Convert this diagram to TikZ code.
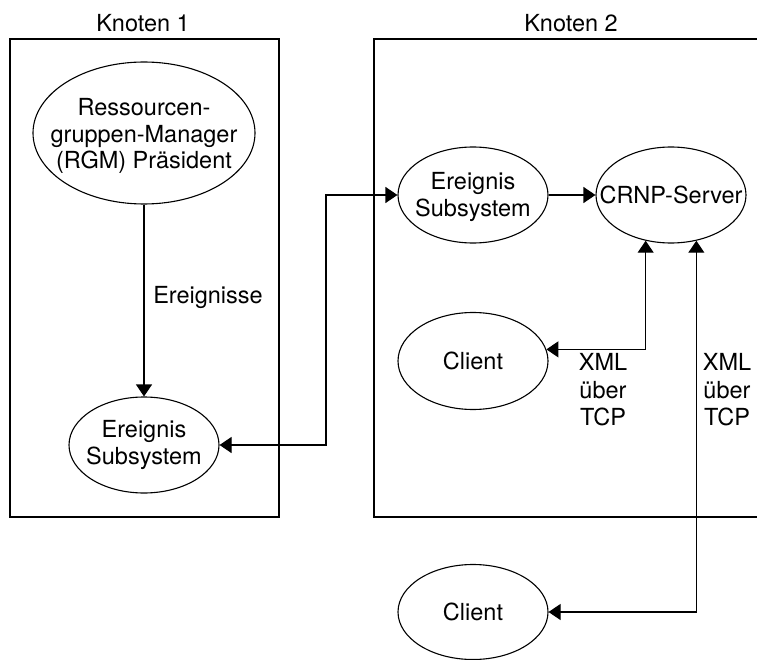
\documentclass[tikz,border=0pt]{standalone}
\usepackage{fontspec}
\setmainfont{TeX Gyre Heros}
\usetikzlibrary{shapes.geometric,arrows.meta}
\tikzset{
  txt/.style={font=\fontsize{23.5}{27}\selectfont, inner sep=0pt},
  oval/.style={draw, ellipse, line width=1.1pt, inner sep=0pt, minimum width=150pt, minimum height=96pt},
  ovaltext/.style={align=center, font=\fontsize{23.5}{27}\selectfont, inner sep=0pt},
  frame/.style={line width=1.1pt},
  link/.style={line width=1.1pt, -{Triangle[length=12pt,width=16pt]}},
  link2/.style={line width=1.1pt, {Triangle[length=12pt,width=16pt]}-{Triangle[length=12pt,width=16pt]}}
}
\begin{document}
\begin{tikzpicture}[x=1pt,y=-1pt]
\useasboundingbox (0,0) rectangle (757,660);
% frames
\draw[frame] (10,39) rectangle (279,517);
\draw[frame] (760,39) -- (374,39) -- (374,517) -- (760,517);
\node[txt] (k1) at (143,23) {Knoten 1};
\node[txt] (k2) at (571,23) {Knoten 2};
% nodes
\node[oval, minimum width=222pt, minimum height=142pt,
  label={[ovaltext, font=\fontsize{23.5}{26.5}\selectfont, yshift=-3pt]center:Ressourcen-\\gruppen-Manager\\(RGM) Präsident}] (rgm) at (144,133) {};
\node[oval, label={[ovaltext]center:Ereignis\\Subsystem}] (es1) at (144,445) {};
\node[oval, label={[ovaltext, yshift=-2pt]center:Ereignis\\Subsystem}] (es2) at (473,195) {};
\node[oval, label={[ovaltext]center:CRNP-Server}] (crnp) at (671,195) {};
\node[oval, minimum height=97pt, label={[ovaltext]center:Client}] (cl1) at (473,361) {};
\node[oval, minimum height=95pt, label={[ovaltext]center:Client}] (cl2) at (473,612) {};
% labels
\node[txt] (ev) at (208,297) {Ereignisse};
\node[txt, align=center, font=\fontsize{23.5}{27.5}\selectfont] (xml1) at (603,390) {XML\\über\\TCP};
\node[txt, align=center, font=\fontsize{23.5}{27.5}\selectfont] (xml2) at (727,390) {XML\\über\\TCP};
% connectors
\draw[link] (rgm.south) -- (es1.north);
\coordinate (bend) at (326,195);
\draw[link2] (es1.east) -| (bend) -- (es2.west);
\draw[link] (es2.east) -- (crnp.west);
\draw[link2] (crnp.241) |- (cl1.9);
\draw[link2] (crnp.299) |- (cl2.east);
\end{tikzpicture}
\end{document}
